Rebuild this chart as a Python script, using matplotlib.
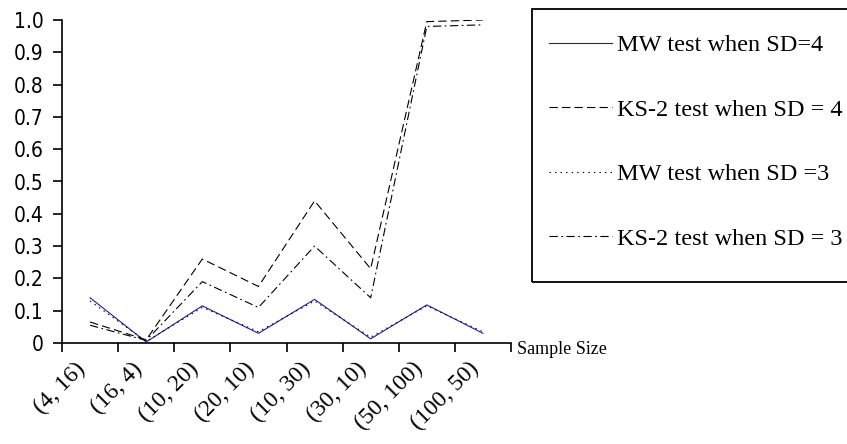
import matplotlib
matplotlib.use('Agg')
import matplotlib.pyplot as plt
from matplotlib import rcParams
from matplotlib.patches import Rectangle

rcParams['font.family'] = ['Liberation Serif', 'DejaVu Serif']
rcParams['lines.scale_dashes'] = False

categories = ['(4, 16)', '(16, 4)', '(10, 20)', '(20, 10)',
              '(10, 30)', '(30, 10)', '(50, 100)', '(100, 50)']
mw_sd4 = [0.14, 0.003, 0.115, 0.03, 0.135, 0.013, 0.118, 0.03]
ks_sd4 = [0.065, 0.01, 0.26, 0.175, 0.44, 0.23, 0.995, 1.0]
mw_sd3 = [0.13, 0.005, 0.11, 0.035, 0.13, 0.018, 0.115, 0.035]
ks_sd3 = [0.055, 0.008, 0.19, 0.11, 0.30, 0.14, 0.98, 0.985]
yticks = [0, 0.1, 0.2, 0.3, 0.4, 0.5, 0.6, 0.7, 0.8, 0.9, 1.0]
ytick_labels = ['0', '0.1', '0.2', '0.3', '0.4', '0.5', '0.6', '0.7', '0.8', '0.9', '1.0']

W, H = 847, 444
fig = plt.figure(figsize=(W / 100, H / 100), dpi=100)
ax = fig.add_axes([62 / W, (H - 343) / H, (511 - 62) / W, (343 - 20) / H])

x = list(range(len(categories)))
lw = 0.8
l1, = ax.plot(x, mw_sd4, color='#1e1e9e', lw=lw, label='MW test when SD=4')
l2, = ax.plot(x, ks_sd4, color='black', lw=lw, dashes=(6, 3),
              label='KS-2 test when SD = 4')
l3, = ax.plot(x, mw_sd3, color='black', lw=lw, dashes=(1, 3),
              label='MW test when SD =3')
l4, = ax.plot(x, ks_sd3, color='black', lw=lw, dashes=(6, 2.5, 1.2, 2.5),
              label='KS-2 test when SD = 3')

ax.set_xlim(-0.5, len(categories) - 0.5)
ax.set_ylim(0, 1.0)
ax.spines['top'].set_visible(False)
ax.spines['right'].set_visible(False)
for s in ['left', 'bottom']:
    ax.spines[s].set_linewidth(1.2)

ax.set_yticks(yticks)
ax.set_yticklabels(ytick_labels, family='DejaVu Sans', stretch='condensed')
ax.tick_params(axis='y', direction='out', length=6.5, width=1.2, pad=7, labelsize=15)

ax.set_xticks(x)
ax.set_xticklabels(categories, rotation=45, ha='right')
ax.set_xticks([i - 0.5 for i in range(len(categories) + 1)], minor=True)
ax.tick_params(axis='x', which='major', length=0, pad=11, labelsize=17)
ax.tick_params(axis='x', which='minor', direction='out', length=6.5, width=1.2)

fig.text(517 / W, (H - 341) / H, 'Sample Size', fontsize=13, ha='left', va='top')

# legend entries without a frame, box drawn separately so it can run off the right edge
leg = fig.legend(handles=[l1, l2, l3, l4], loc='upper left',
                 bbox_to_anchor=(549 / W, (H - 34) / H), borderaxespad=0,
                 fontsize=17.5, handlelength=2.6, handletextpad=0.2,
                 labelspacing=1.75, borderpad=0, frameon=False)
fig.patches.append(Rectangle((532 / W, (H - 282) / H), 330 / W, 273 / H,
                             transform=fig.transFigure, fill=False,
                             edgecolor='black', linewidth=1.3))

fig.savefig('out.png', dpi=100)
